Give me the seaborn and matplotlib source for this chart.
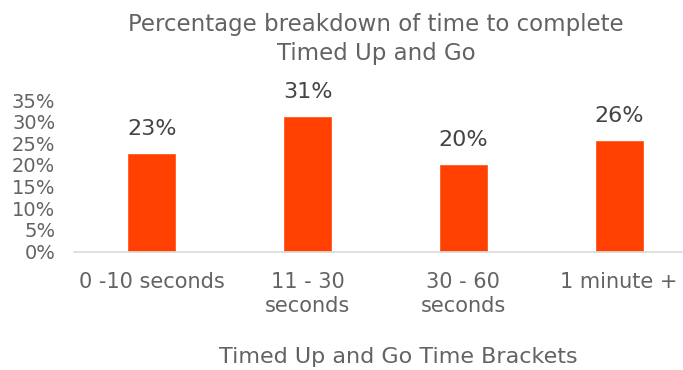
import matplotlib
matplotlib.use("Agg")
import matplotlib.pyplot as plt
import seaborn as sns
import pandas as pd
from matplotlib.ticker import PercentFormatter

categories = ["0 -10 seconds", "11 - 30\nseconds", "30 - 60\nseconds", "1 minute +"]
values = [0.227, 0.314, 0.202, 0.258]
yticks = [0, 0.05, 0.10, 0.15, 0.20, 0.25, 0.30, 0.35]
title = "Percentage breakdown of time to complete\nTimed Up and Go"
xlabel = "Timed Up and Go Time Brackets"

sns.set_theme(style="white")
plt.rcParams['font.family'] = ['DejaVu Sans']

W, H = 683, 370
fig = plt.figure(figsize=(W / 100, H / 100), dpi=100)
left, right, bottom, top = 74, 697, 251.5, 100
ax = fig.add_axes([left / W, (H - bottom) / H, (right - left) / W, (bottom - top) / H])

df = pd.DataFrame({"cat": categories, "val": values})
sns.barplot(data=df, x="cat", y="val", color="#FF4000", saturation=1, width=0.315, ax=ax)

grey = "#636363"
ax.set_xlim(-0.5, 3.5)
ax.set_ylim(0, 0.35)
ax.set_yticks(yticks)
ax.yaxis.set_major_formatter(PercentFormatter(1.0, decimals=0))
ax.tick_params(axis="y", length=0, pad=13.5, labelsize=14, labelcolor=grey)
ax.tick_params(axis="x", length=0, pad=14.5, labelsize=15, labelcolor=grey)
for lab in ax.get_xticklabels():
    lab.set_linespacing(1.25)
ax.set_xlabel("")
ax.set_ylabel("")
for s in ["top", "right", "left"]:
    ax.spines[s].set_visible(False)
ax.spines["bottom"].set_color("#D9D9D9")
ax.spines["bottom"].set_linewidth(1.2)

for i, v in enumerate(values):
    ax.annotate(f"{v:.0%}", (i, v), xytext=(0, 10), textcoords="offset points",
                ha="center", va="bottom", fontsize=16, color="#444444")

fig.text(376 / W, 1 - 39 / H, title, ha="center", va="center", fontsize=16.5,
         color=grey, linespacing=1.3)
fig.text(398 / W, 1 - 357 / H, xlabel, ha="center", va="center", fontsize=16,
         color=grey)

fig.savefig("out.png", dpi=100)
